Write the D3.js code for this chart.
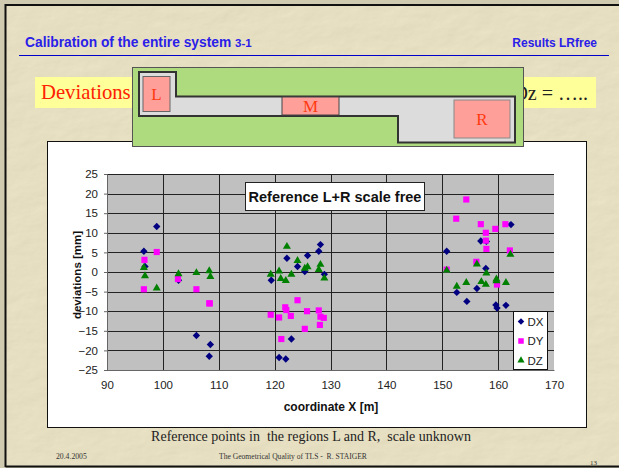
<!DOCTYPE html>
<html>
<head>
<meta charset="utf-8">
<script src="https://cdn.jsdelivr.net/npm/d3@7"></script>
<style>
  html, body { margin: 0; padding: 0; background: #cfcab0; }
  svg { display: block; }
  text { white-space: pre; }
</style>
</head>
<body>
<div id="chart"></div>
<script>
// Values: [coordinate X, deviation]
const dxPoints = [
    [96.6, 5.3], [96.8, 1.4], [98.9, 11.6], [102.8, -2.1], [106, -16.2], [108.5, -18.5], [108.3, -21.5],
    [119.4, -2.1], [122.2, 3.5], [124.1, 1.4], [125.4, 0.1], [125.9, 4.2], [127.9, 5.3], [128.2, 7], [128.9, -0.6],
    [123, -17.1], [120.8, -21.8], [122, -22.2],
    [150.8, 5.3], [162.3, 12.1], [156.9, 7.9], [157.9, 7.8], [157.8, 0.9], [152.6, -5.2], [156.2, -4.2],
    [154.4, -7.5], [159.6, -8.4], [159.8, -9.2], [161.4, -8.5]
];
const dyPoints = [
    [96.6, -4.4], [96.7, 3.1], [98.9, 5.1], [102.7, -1.8], [106, -4.4], [108.3, -8], [108.4, -8],
    [124.1, -7.2], [121.9, -9], [122.1, -9.7], [119.3, -10.9], [120.8, -11.6], [122.9, -11.2], [125.8, -10],
    [127.9, -9.8], [128.2, -11.4], [128.8, -11.7], [128.1, -13.5], [125.4, -14.5], [121.2, -17.1],
    [154.3, 18.5], [152.5, 13.6], [156.9, 12.2], [161.3, 12.2], [159.5, 11], [157.8, 10], [157.8, 8],
    [157.9, 5.9], [162.1, 5.5], [156.1, 2.6], [150.8, 0.6], [159.8, -3.2]
];
const dzPoints = [
    [96.6, 1.1], [96.8, -1], [98.9, -4.1], [102.8, -0.5], [106, -0.2], [108.3, 0.3], [108.5, -1.2],
    [119.3, -0.6], [120.8, 0.2], [121.1, -1.7], [122, -2.2], [122.2, 6.5], [123, -0.6], [124.1, 2.9],
    [125.4, 0.9], [125.9, 1.3], [127.9, 0.6], [128.2, 1.9], [128.9, -1.6],
    [150.8, 0.4], [156.2, 2], [162.2, 4.5], [157.9, -0.3], [154.3, -2.7], [152.6, -3.7], [157, -2.5],
    [157.8, -3.2], [159.7, -1.8], [159.7, -2.3], [161.4, -2.7]
];
const xTicks = [90, 100, 110, 120, 130, 140, 150, 160, 170];
const yTicks = [25, 20, 15, 10, 5, 0, -5, -10, -15, -20, -25];

const seriesNames = ["DX", "DY", "DZ"];
const seriesPoints = [dxPoints, dyPoints, dzPoints];
const seriesColors = ["#000080", "#ff00ff", "#008000"];
const seriesSymbols = [d3.symbolSquare, d3.symbolSquare, d3.symbolTriangle];
const seriesSizes = [27, 38, 28];
const seriesRotate = [45, 0, 0];

const WIDTH = 619, HEIGHT = 468;
const SERIF = "'Liberation Serif', serif";
const SANS = "'Liberation Sans', Arial, sans-serif";

const svg = d3.select("#chart").append("svg")
    .attr("width", WIDTH)
    .attr("height", HEIGHT);

// Parchment background
const filter = svg.append("defs").append("filter")
    .attr("id", "parchment")
    .attr("x", 0).attr("y", 0).attr("width", "100%").attr("height", "100%");
filter.append("feTurbulence")
    .attr("type", "fractalNoise")
    .attr("baseFrequency", "0.035 0.06")
    .attr("numOctaves", 4)
    .attr("seed", 7)
    .attr("result", "noise");
filter.append("feDiffuseLighting")
    .attr("in", "noise")
    .attr("surfaceScale", 0.55)
    .attr("diffuseConstant", 1.1)
    .attr("lighting-color", "#e6dfc1")
    .append("feDistantLight")
    .attr("azimuth", 45)
    .attr("elevation", 65);

svg.append("rect")
    .attr("x", 6).attr("y", 5)
    .attr("width", 613).attr("height", 461)
    .attr("filter", "url(#parchment)");

// Slide edge: left, top and bottom only, the right side runs off the picture
svg.append("path")
    .attr("d", "M5.5,467V5H619M5.5,466.5H619")
    .attr("fill", "none")
    .attr("stroke", "#111")
    .attr("stroke-width", 2);

// Slide header
const title = svg.append("text")
    .attr("x", 25).attr("y", 47)
    .attr("font-family", SANS).attr("font-weight", "bold")
    .attr("font-size", 13.8).attr("fill", "#2a20e8");
title.append("tspan").text("Calibration of the entire system ");
title.append("tspan").attr("font-size", 11.5).text("3-1");

svg.append("text")
    .attr("x", 597).attr("y", 47)
    .attr("text-anchor", "end")
    .attr("font-family", SANS).attr("font-weight", "bold")
    .attr("font-size", 12).attr("fill", "#2a20e8")
    .text("Results LRfree");

svg.append("line")
    .attr("x1", 19).attr("x2", 609)
    .attr("y1", 55.5).attr("y2", 55.5)
    .attr("stroke", "#0000cc");

// Yellow heading band, mostly hidden by the site plan
svg.append("rect")
    .attr("x", 35).attr("y", 77)
    .attr("width", 561).attr("height", 31)
    .attr("fill", "#ffff99");
svg.append("text")
    .attr("x", 41).attr("y", 99)
    .attr("font-family", SERIF).attr("font-size", 20.7)
    .attr("fill", "#ff2200")
    .text("Deviations");
svg.append("text")
    .attr("x", 588).attr("y", 100)
    .attr("text-anchor", "end")
    .attr("font-family", SERIF).attr("font-size", 20)
    .attr("fill", "#222")
    .text("Dz = …..");

// Chart frame
svg.append("rect")
    .attr("x", 47.5).attr("y", 141.5)
    .attr("width", 539).attr("height", 286)
    .attr("fill", "#fff")
    .attr("stroke", "#111");

// Site plan
const plan = svg.append("g");
plan.append("rect")
    .attr("x", 132.5).attr("y", 67.5)
    .attr("width", 391).attr("height", 79)
    .attr("fill", "#aedb7d")
    .attr("stroke", "#555");
plan.append("path")
    .attr("d", "M139,72H176V96.5H515V142.5H398V116H139Z")
    .attr("fill", "#dcdcdc")
    .attr("stroke", "#333")
    .attr("stroke-width", 2);

const rooms = [
    { name: "L", x: 143, y: 76.5, w: 27, h: 35, stroke: "#666" },
    { name: "M", x: 282, y: 97, w: 57, h: 18, stroke: "#444" },
    { name: "R", x: 454, y: 100, w: 56, h: 38, stroke: "#888" }
];
rooms.forEach(r => {
    plan.append("rect")
        .attr("x", r.x).attr("y", r.y)
        .attr("width", r.w).attr("height", r.h)
        .attr("fill", "#ff9f9a")
        .attr("stroke", r.stroke);
    plan.append("text")
        .attr("x", r.x + r.w / 2).attr("y", r.y + r.h / 2 + 6)
        .attr("text-anchor", "middle")
        .attr("font-family", SERIF).attr("font-size", 17)
        .attr("fill", "#ff3a10")
        .text(r.name);
});

const MARGIN = { LEFT: 107, RIGHT: 554, TOP: 174, BOTTOM: 370 };

const x = d3.scaleLinear().domain([90, 170]).range([MARGIN.LEFT, MARGIN.RIGHT]);
const y = d3.scaleLinear().domain([-25, 25]).range([MARGIN.BOTTOM, MARGIN.TOP]);

const chart = svg.append("g");

chart.append("rect")
    .attr("x", MARGIN.LEFT).attr("y", MARGIN.TOP)
    .attr("width", MARGIN.RIGHT - MARGIN.LEFT)
    .attr("height", MARGIN.BOTTOM - MARGIN.TOP)
    .attr("fill", "#c0c0c0");

// Grid lines
chart.append("g").selectAll("line")
    .data(yTicks)
    .join("line")
    .attr("x1", MARGIN.LEFT).attr("x2", MARGIN.RIGHT)
    .attr("y1", d => Math.round(y(d)) + 0.5).attr("y2", d => Math.round(y(d)) + 0.5)
    .attr("stroke", "#222");
chart.append("g").selectAll("line")
    .data(xTicks.slice(1, -1))
    .join("line")
    .attr("x1", d => Math.round(x(d)) + 0.5).attr("x2", d => Math.round(x(d)) + 0.5)
    .attr("y1", MARGIN.TOP).attr("y2", MARGIN.BOTTOM)
    .attr("stroke", "#222");

// Axes
const xAxis = chart.append("g")
    .attr("transform", `translate(0, ${MARGIN.BOTTOM})`)
    .call(d3.axisBottom(x).tickValues(xTicks).tickSize(0).tickPadding(11));
const yAxis = chart.append("g")
    .attr("transform", `translate(${MARGIN.LEFT}, 0)`)
    .call(d3.axisLeft(y).tickValues(yTicks).tickSize(3).tickPadding(6));
[xAxis, yAxis].forEach(a => {
    a.selectAll("text")
        .attr("font-family", SANS).attr("font-size", 11.5).attr("fill", "#222");
    a.select(".domain").attr("stroke", "#666");
    a.selectAll("line").attr("stroke", "#666");
});

chart.append("text")
    .attr("x", 331).attr("y", 411)
    .attr("text-anchor", "middle")
    .attr("font-family", SANS).attr("font-weight", "bold")
    .attr("font-size", 12).attr("fill", "#111")
    .text("coordinate X [m]");
chart.append("text")
    .attr("transform", "translate(81, 275) rotate(-90)")
    .attr("text-anchor", "middle")
    .attr("font-family", SANS).attr("font-weight", "bold")
    .attr("font-size", 11.5).attr("fill", "#111")
    .text("deviations [mm]");

// Points
seriesPoints.forEach((points, i) => {
    chart.append("g").selectAll("path")
        .data(points)
        .join("path")
        .attr("transform", d => `translate(${x(d[0])}, ${y(d[1])}) rotate(${seriesRotate[i]})`)
        .attr("d", d3.symbol().type(seriesSymbols[i]).size(seriesSizes[i]))
        .attr("fill", seriesColors[i]);
});

// Chart title box
chart.append("rect")
    .attr("x", 245.5).attr("y", 182.5)
    .attr("width", 179).attr("height", 28)
    .attr("fill", "#fff")
    .attr("stroke", "#222");
chart.append("text")
    .attr("x", 335).attr("y", 201.5)
    .attr("text-anchor", "middle")
    .attr("font-family", SANS).attr("font-weight", "bold")
    .attr("font-size", 14.5).attr("fill", "#111")
    .text("Reference L+R scale free");

// Legend
chart.append("rect")
    .attr("x", 513.5).attr("y", 311.5)
    .attr("width", 34).attr("height", 58)
    .attr("fill", "#fff")
    .attr("stroke", "#111");
seriesNames.forEach((name, i) => {
    const ly = 321.5 + i * 19.5;
    chart.append("path")
        .attr("transform", `translate(521, ${ly}) rotate(${seriesRotate[i]})`)
        .attr("d", d3.symbol().type(seriesSymbols[i]).size(seriesSizes[i] * 0.8))
        .attr("fill", seriesColors[i]);
    chart.append("text")
        .attr("x", 527.5).attr("y", ly + 4)
        .attr("font-family", SANS).attr("font-size", 11.5).attr("fill", "#222")
        .text(name);
});

// Footer
svg.append("text")
    .attr("x", 311).attr("y", 441)
    .attr("text-anchor", "middle")
    .attr("font-family", SERIF).attr("font-size", 14).attr("fill", "#222")
    .text("Reference points in  the regions L and R,  scale unknown");
svg.append("text")
    .attr("x", 56).attr("y", 459)
    .attr("font-family", SERIF).attr("font-size", 7.7).attr("fill", "#333")
    .text("20.4.2005");
svg.append("text")
    .attr("x", 219).attr("y", 459)
    .attr("font-family", SERIF).attr("font-size", 7.6).attr("fill", "#333")
    .text("The Geometrical Quality of TLS -  R. STAIGER");
svg.append("text")
    .attr("x", 590).attr("y", 464.5)
    .attr("font-family", SERIF).attr("font-size", 7).attr("fill", "#333")
    .text("13");
</script>
</body>
</html>
